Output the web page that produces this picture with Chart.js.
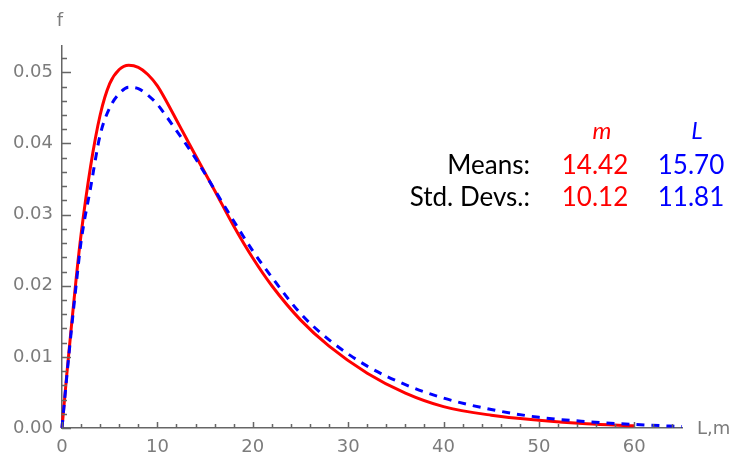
<!DOCTYPE html>
<html><head><meta charset="utf-8">
<script src="https://cdn.jsdelivr.net/npm/chart.js@4/dist/chart.umd.min.js"></script>
<style>html,body{margin:0;padding:0;background:#fff}#wrap{width:734px;height:454px;position:relative}</style>
</head><body><div id="wrap"><canvas id="c"></canvas></div>
<script>
const xValues = [0,0.5,1,1.5,2,3,4,5,6,7,8,9,10,11,12,13,14,16,18,20,22,25,28,32,36,40,45,50,55,60,65];
const mValues = [0,0.0075,0.0145,0.0212,0.0272,0.0368,0.0440,0.0484,0.0504,0.0510,0.0507,0.0497,0.0481,0.0458,0.0433,0.0408,0.0383,0.0334,0.0284,0.0239,0.0200,0.0152,0.0115,0.0077,0.0049,0.0030,0.0018,0.0011,0.0006,0.0003,null];
const LValues = [0,0.0072,0.0140,0.0203,0.0262,0.0338,0.0412,0.0450,0.0470,0.0479,0.0477,0.0468,0.0455,0.0437,0.0418,0.0399,0.0379,0.0335,0.0291,0.0249,0.0212,0.0161,0.0124,0.0087,0.0061,0.0042,0.0026,0.0015,0.0009,0.0005,0.0002];
const xTickLabels = ['0','10','20','30','40','50','60'];
const yTickLabels = ['0.00','0.01','0.02','0.03','0.04','0.05'];
const seriesNames = ['m','L'];
const statRowLabels = ['Means:','Std. Devs.:'];
const mStats = ['14.42','10.12'];
const LStats = ['15.70','11.81'];
const axisTitles = ['L,m','f'];

const GRAY = '#7c7c7c';
const AXIS = '#666666';
const tickFont = {family:'DejaVu Sans', size:18};

const toPts = arr => xValues.map((x,i)=>({x:x, y:arr[i]}));

function drawTickMarks(chart){
  const ctx = chart.ctx;
  const xs = chart.scales.x, ys = chart.scales.y;
  ctx.save();
  ctx.setLineDash([]);
  ctx.strokeStyle = AXIS; ctx.lineWidth = 1.5;
  const y0 = ys.getPixelForValue(0);
  const x0 = xs.getPixelForValue(0);
  ctx.beginPath();
  for (let v=0; v<=64; v+=2){
    const px = Math.round(xs.getPixelForValue(v)) + 0.5;
    const len = (v%10===0) ? 6 : 4;
    ctx.moveTo(px,y0); ctx.lineTo(px,y0-len);
  }
  for (let i=0;i<=26;i++){
    const py = Math.round(ys.getPixelForValue(i*0.002)) + 0.5;
    const len = (i%5===0) ? 9 : 5;
    ctx.moveTo(x0,py); ctx.lineTo(x0+len,py);
  }
  ctx.stroke();
  ctx.restore();
}

function drawAnnotations(chart){
  const ctx = chart.ctx;
  ctx.save();
  ctx.fillStyle = GRAY;
  ctx.font = '18px "DejaVu Sans"';
  ctx.textBaseline = 'middle';
  ctx.textAlign = 'left';
  ctx.fillText(axisTitles[0], 697, 429);
  ctx.textAlign = 'center';
  ctx.fillText(axisTitles[1], 60, 21);
  ctx.textBaseline = 'alphabetic';
  ctx.font = 'italic 24px Lato';
  ctx.fillStyle = '#ff0000'; ctx.fillText(seriesNames[0], 602, 139);
  ctx.fillStyle = '#0000ff'; ctx.fillText(seriesNames[1], 697, 139);
  ctx.font = '26px Lato';
  const base = [174, 206];
  for (let i=0;i<2;i++){
    ctx.textAlign = 'right'; ctx.fillStyle = '#000';
    ctx.fillText(statRowLabels[i], 530, base[i]);
    ctx.textAlign = 'center';
    ctx.fillStyle = '#ff0000'; ctx.fillText(mStats[i], 595, base[i]);
    ctx.fillStyle = '#0000ff'; ctx.fillText(LStats[i], 691, base[i]);
  }
  ctx.restore();
}

const overlay = {
  id:'overlay',
  afterDraw(chart){
    drawAnnotations(chart);
    drawTickMarks(chart);
  }
};

new Chart(document.getElementById('c'), {
  type:'line',
  data:{
    datasets:[
      {label:'m', data:toPts(mValues), borderColor:'#ff0000', borderWidth:3, pointRadius:0, cubicInterpolationMode:'monotone', fill:false, clip:false, order:1},
      {label:'L', data:toPts(LValues), borderColor:'#0000ff', borderWidth:3, borderDash:[8,7], pointRadius:0, cubicInterpolationMode:'monotone', fill:false, clip:false, order:0}
    ]
  },
  options:{
    responsive:true, maintainAspectRatio:false, animation:false,
    layout:{padding:{top:46,right:52,left:0,bottom:0}},
    plugins:{legend:{display:false}, tooltip:{enabled:false}},
    scales:{
      x:{type:'linear', min:0, max:65,
        grid:{display:false, drawTicks:false},
        border:{display:true, color:AXIS, width:1.5},
        ticks:{stepSize:10, includeBounds:false, autoSkip:false, maxRotation:0, padding:9, color:GRAY, font:tickFont,
          callback:(v)=>{const i=Math.round(v/10); return Math.abs(v-i*10)<1e-6 && xTickLabels[i]!==undefined ? xTickLabels[i] : '';}},
        afterFit:(s)=>{s.height=26;}
      },
      y:{type:'linear', min:0, max:0.0537,
        grid:{display:false, drawTicks:false},
        border:{display:true, color:AXIS, width:1.5},
        ticks:{stepSize:0.01, includeBounds:false, autoSkip:false, padding:9, color:GRAY, font:tickFont,
          callback:(v)=>{const i=Math.round(v/0.01); return Math.abs(v-i*0.01)<1e-6 && yTickLabels[i]!==undefined ? yTickLabels[i] : '';}},
        afterFit:(s)=>{s.width=62;}
      }
    }
  },
  plugins:[overlay]
});
</script></body></html>
